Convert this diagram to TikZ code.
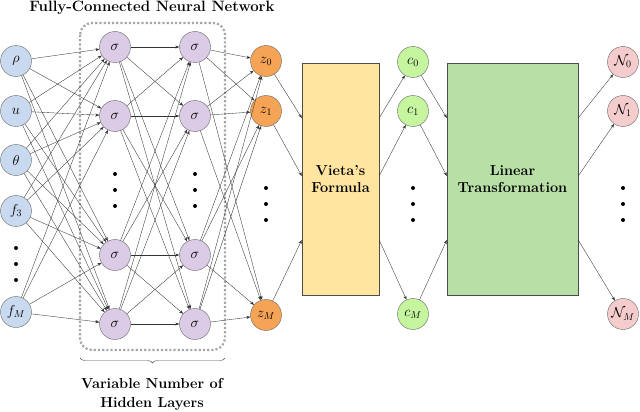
\documentclass[tikz,border=0pt]{standalone}
\usetikzlibrary{arrows.meta,decorations.pathreplacing}
\begin{document}
\begin{tikzpicture}[x=1pt,y=-1pt,
  neu/.style={circle,draw=black!60,line width=0.4pt,minimum size=31pt,inner sep=0pt,font=\fontsize{14}{16}\selectfont},
  inp/.style={neu,fill={rgb,255:red,201;green,218;blue,240}},
  hid/.style={neu,fill={rgb,255:red,220;green,203;blue,230}},
  zz/.style={neu,fill={rgb,255:red,245;green,164;blue,85}},
  cc/.style={neu,fill={rgb,255:red,198;green,245;blue,160}},
  nn/.style={neu,fill={rgb,255:red,245;green,204;blue,204}},
  con/.style={-{Stealth[length=4pt,width=3pt]},line width=0.35pt,black!80},
  dots/.style={circle,fill=black,inner sep=0pt,minimum size=4pt},
  lbl/.style={font=\bfseries\fontsize{14.5}{17}\selectfont,align=center}]
\useasboundingbox (0,0) rectangle (640,412);
% inputs
\node[inp] (i1) at (16,61) {$\rho$};
\node[inp] (i2) at (16,111) {$u$};
\node[inp] (i3) at (16,160) {$\theta$};
\node[inp] (i4) at (16,211) {$f_3$};
\node[inp] (i5) at (16,312) {$f_M$};
\foreach \y in {248,264,280} \node[dots] at (16,\y) {};
% hidden
\foreach \c/\x in {a/115,b/195}{
  \node[hid] (\c1) at (\x,47) {$\sigma$};
  \node[hid] (\c2) at (\x,116) {$\sigma$};
  \node[hid] (\c3) at (\x,255) {$\sigma$};
  \node[hid] (\c4) at (\x,324) {$\sigma$};
  \foreach \y in {174,190,206} \node[dots] at (\x,\y) {};
}
\draw[dotted,line width=2.2pt,gray!70,rounded corners=12pt] (80,23) rectangle (225,350);
% z
\node[zz] (z0) at (266,61) {$z_0$};
\node[zz] (z1) at (266,111) {$z_1$};
\node[zz] (zM) at (266,315) {$z_M$};
\foreach \y in {188,204,220} \node[dots] at (266,\y) {};
% connections
\foreach \i in {1,...,5} \foreach \j in {1,...,4} \draw[con] (i\i) -- (a\j);
\foreach \i in {1,...,4} \foreach \j in {1,...,4} \draw[con] (a\i) -- (b\j);
\foreach \i in {1,...,4} \foreach \j in {z0,z1,zM} \draw[con] (b\i) -- (\j);
% Vieta
\node[draw=black!70,fill={rgb,255:red,255;green,229;blue,160},minimum width=77pt,minimum height=232pt,inner sep=0pt,lbl] (V) at (340.5,179) {Vieta's\\Formula};
\node[cc] (c0) at (413,62) {$c_0$};
\node[cc] (c1) at (413,111) {$c_1$};
\node[cc] (cM) at (413,314) {$c_M$};
\foreach \y in {188,204,220} \node[dots] at (413,\y) {};
\node[draw=black!70,fill={rgb,255:red,184;green,224;blue,166},minimum width=131pt,minimum height=232pt,inner sep=0pt,lbl] (L) at (512.5,179) {Linear\\Transformation};
\node[nn] (n0) at (623,62) {$\mathcal{N}_0$};
\node[nn] (n1) at (623,111) {$\mathcal{N}_1$};
\node[nn] (nM) at (623,314) {$\mathcal{N}_M$};
\foreach \y in {188,204,220} \node[dots] at (623,\y) {};
\coordinate (vl1) at (V.west |- 0,118); \coordinate (vl2) at (V.west |- 0,176); \coordinate (vl3) at (V.west |- 0,240);
\coordinate (vr1) at (V.east |- 0,118); \coordinate (vr2) at (V.east |- 0,176); \coordinate (vr3) at (V.east |- 0,240);
\coordinate (ll1) at (L.west |- 0,118); \coordinate (ll2) at (L.west |- 0,176); \coordinate (ll3) at (L.west |- 0,240);
\coordinate (lr1) at (L.east |- 0,118); \coordinate (lr2) at (L.east |- 0,176); \coordinate (lr3) at (L.east |- 0,240);
\draw[con] (z0) -- (vl1); \draw[con] (z1) -- (vl2); \draw[con] (zM) -- (vl3);
\draw[con] (vr1) -- (c0); \draw[con] (vr2) -- (c1); \draw[con] (vr3) -- (cM);
\draw[con] (c0) -- (ll1); \draw[con] (c1) -- (ll2); \draw[con] (cM) -- (ll3);
\draw[con] (lr1) -- (n0); \draw[con] (lr2) -- (n1); \draw[con] (lr3) -- (nM);
% labels
\node[lbl,font=\bfseries\fontsize{15}{17}\selectfont] (t) at (152,8) {Fully-Connected Neural Network};
\draw[decorate,decoration={brace,mirror,amplitude=5pt},black!70] (80,358) -- (225,358);
\node[lbl,font=\bfseries\fontsize{14.5}{19}\selectfont] (hl) at (152,394) {Variable Number of\\Hidden Layers};
\end{tikzpicture}
\end{document}
